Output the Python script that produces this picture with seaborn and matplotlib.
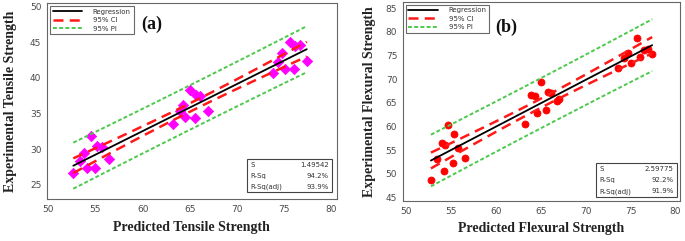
"""
Fitted line plot: experimental vs predicted strength (tensile / flexural).
"""
import numpy as np
import pandas as pd
import matplotlib
matplotlib.use("Agg")
import matplotlib.pyplot as plt
from matplotlib.patches import Rectangle
import seaborn as sns

# --- data ---
tensile_pred = [52.65, 53.4, 53.8, 54.1, 54.5, 54.95, 55.2, 55.7, 56.4,
                63.2, 63.95, 64.3, 64.5, 65.0, 65.6, 65.7, 66.1, 66.95,
                73.8, 74.4, 74.8, 75.1, 75.6, 76.0, 76.2, 76.7, 77.4]
tensile_exp = [26.6, 28.4, 29.4, 27.4, 31.8, 27.3, 30.4, 30.3, 28.6,
               33.6, 35.3, 36.2, 34.5, 38.3, 34.4, 37.6, 37.4, 35.4,
               40.7, 42.3, 43.5, 41.2, 45.1, 41.2, 44.5, 44.6, 42.4]
tensile_stats = [("S", "1.49542"), ("R-Sq", "94.2%"), ("R-Sq(adj)", "93.9%")]

flex_pred = [52.8, 53.5, 54.0, 54.3, 54.4, 54.7, 55.3, 55.4, 55.8, 56.6,
             63.3, 63.9, 64.4, 64.6, 65.0, 65.6, 65.8, 66.2, 66.8, 67.0,
             73.6, 74.3, 74.7, 75.0, 75.7, 76.1, 76.5, 76.9, 77.4]
flex_exp = [48.7, 53.1, 56.5, 50.6, 56.1, 60.3, 52.4, 58.4, 55.5, 53.4,
            60.5, 66.7, 66.4, 62.9, 69.5, 63.6, 67.3, 67.1, 65.5, 65.8,
            72.3, 74.4, 75.5, 73.5, 78.6, 74.6, 76.2, 76.3, 75.3]
flex_stats = [("S", "2.59775"), ("R-Sq", "92.2%"), ("R-Sq(adj)", "91.9%")]

T95 = 2.06  # t(0.975, ~25 df)

SERIF = "Liberation Serif"
TICK_C = "#4a4a4a"
SPINE_C = "#666666"
RED = "#ff1a1a"
GREEN = "#4cc94c"


def fit_bands(x, y):
    x = np.asarray(x, float)
    y = np.asarray(y, float)
    n = len(x)
    b, a = np.polyfit(x, y, 1)
    resid = y - (a + b * x)
    s = np.sqrt((resid ** 2).sum() / (n - 2))
    xs = np.linspace(x.min(), x.max(), 60)
    yh = a + b * xs
    sxx = ((x - x.mean()) ** 2).sum()
    h = 1 / n + (xs - x.mean()) ** 2 / sxx
    ci = T95 * s * np.sqrt(h)
    pi = T95 * s * np.sqrt(1 + h)
    return pd.DataFrame({"x": xs, "fit": yh, "ci_lo": yh - ci, "ci_hi": yh + ci,
                         "pi_lo": yh - pi, "pi_hi": yh + pi})


def draw_panel(ax, xp, ye, marker, mcolor, msize, xlabel, ylabel, tag, stats,
               xlim, ylim, yticks, tag_pos, box, ypad):
    bands = fit_bands(xp, ye)
    sns.scatterplot(x=xp, y=ye, ax=ax, marker=marker, color=mcolor, s=msize,
                    edgecolor=mcolor, linewidth=0.5, zorder=3)
    sns.lineplot(data=bands, x="x", y="fit", ax=ax, color="black", lw=1.3,
                 label="Regression", zorder=4)
    sns.lineplot(data=bands, x="x", y="ci_hi", ax=ax, color=RED, lw=1.8,
                 dashes=(4, 2.5), label="95% CI", zorder=4)
    sns.lineplot(data=bands, x="x", y="ci_lo", ax=ax, color=RED, lw=1.8,
                 dashes=(4, 2.5), zorder=4)
    sns.lineplot(data=bands, x="x", y="pi_hi", ax=ax, color=GREEN, lw=1.4,
                 dashes=(2, 1.2), label="95% PI", zorder=4)
    sns.lineplot(data=bands, x="x", y="pi_lo", ax=ax, color=GREEN, lw=1.4,
                 dashes=(2, 1.2), zorder=4)

    ax.set_xlim(*xlim)
    ax.set_ylim(*ylim)
    ax.set_xticks([50, 55, 60, 65, 70, 75, 80])
    ax.set_yticks(yticks)
    ax.tick_params(colors=TICK_C, labelsize=6.5, length=2.5, width=0.6, pad=1.5)
    for sp in ax.spines.values():
        sp.set_edgecolor(SPINE_C)
        sp.set_linewidth(0.8)
    ax.grid(False)

    ax.set_xlabel(xlabel, family=SERIF, fontweight="bold", fontsize=10,
                  color="#222222", labelpad=5)
    ax.set_ylabel(ylabel, family=SERIF, fontweight="bold", fontsize=10,
                  color="#222222", labelpad=ypad)

    leg = ax.legend(loc="upper left", fontsize=5, frameon=True, fancybox=False,
                    borderaxespad=0.4, handlelength=4.2, labelspacing=0.35,
                    borderpad=0.4, handletextpad=1.6)
    leg.get_frame().set_edgecolor("#444444")
    leg.get_frame().set_linewidth(0.8)
    for t in leg.get_texts():
        t.set_color("#333333")

    ax.text(*tag_pos, tag, transform=ax.transAxes, family=SERIF,
            fontweight="bold", fontsize=13, ha="center", va="center",
            color="#111111")

    # stats table, bottom right
    x0, y0, x1, y1 = box
    ax.add_patch(Rectangle((x0, y0), x1 - x0, y1 - y0, transform=ax.transAxes,
                           fill=True, facecolor="white", edgecolor="#444444",
                           lw=0.8, zorder=5))
    rh = (y1 - y0) / 3
    for i, (k, v) in enumerate(stats):
        yy = y1 - rh * (i + 0.5)
        ax.text(x0 + 0.012, yy, k, transform=ax.transAxes, fontsize=5,
                ha="left", va="center", color="#333333", zorder=6)
        ax.text(x1 - 0.012, yy, v, transform=ax.transAxes, fontsize=5,
                ha="right", va="center", color="#333333", zorder=6)


sns.set_theme(style="white")
plt.rcParams["font.family"] = ["DejaVu Sans"]

fig = plt.figure(figsize=(6.85, 2.41), dpi=100, facecolor="white")
ax1 = fig.add_axes([0.0686, 0.174, 0.423, 0.813])
ax2 = fig.add_axes([0.588, 0.166, 0.404, 0.826])

draw_panel(ax1, tensile_pred, tensile_exp, "D", "#ff00ff", 28,
           "Predicted Tensile Strength", "Experimental Tensile Strength",
           "(a)", tensile_stats, (49.86, 80.58), (23.0, 50.5),
           [25, 30, 35, 40, 45, 50], (0.36, 0.89), (0.69, 0.036, 0.985, 0.204),
           9)
draw_panel(ax2, flex_pred, flex_exp, "o", "#ff0000", 26,
           "Predicted Flexural Strength", "Experimental Flexural Strength",
           "(b)", flex_stats, (49.67, 80.44), (44.3, 86.3),
           [45, 50, 55, 60, 65, 70, 75, 80, 85], (0.375, 0.87),
           (0.70, 0.02, 0.99, 0.19), 7)

fig.savefig("out.png", dpi=100, facecolor="white")
plt.close(fig)
